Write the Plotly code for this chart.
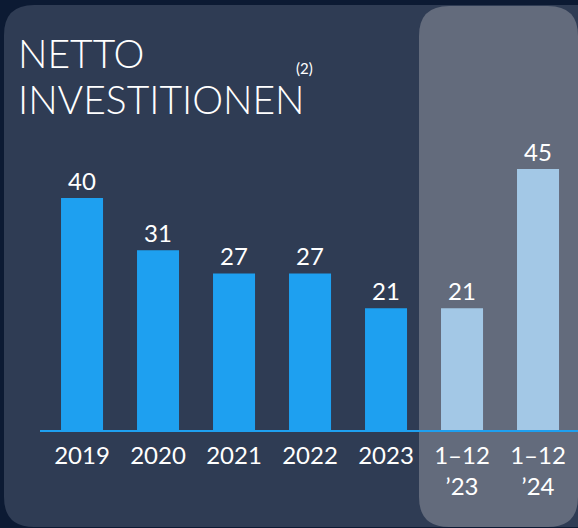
import plotly.graph_objects as go

categories = ["2019", "2020", "2021", "2022", "2023", "1–12<br>’23", "1–12<br>’24"]
values = [40, 31, 27, 27, 21, 21, 45]
bar_colors = ["#1ea0f0"] * 5 + ["#a3c8e6"] * 2
title_lines = ["NETTO", "INVESTITIONEN"]
footnote = "(2)"

W, H = 578, 528
L, R, T, B = 40, 0, 140, 98
pw, ph = W - L - R, H - T - B

def px(x):
    return (x - L) / pw

def py(y):
    return (H - B - y) / ph

def rounded_rect(x0, y0, x1, y1, r):
    rx, ry = r / pw, r / ph
    X0, X1 = px(x0), px(x1)
    Y0, Y1 = py(y0), py(y1)
    return (f"M {X0+rx},{Y0} L {X1-rx},{Y0} Q {X1},{Y0} {X1},{Y0-ry} "
            f"L {X1},{Y1+ry} Q {X1},{Y1} {X1-rx},{Y1} "
            f"L {X0+rx},{Y1} Q {X0},{Y1} {X0},{Y1+ry} "
            f"L {X0},{Y0-ry} Q {X0},{Y0} {X0+rx},{Y0} Z")

FONT = "Lato"

fig = go.Figure()
fig.add_trace(go.Bar(
    x=list(range(len(categories))),
    y=values,
    marker=dict(color=bar_colors, line=dict(width=0)),
    text=[str(v) for v in values],
    textposition="outside",
    textfont=dict(family=FONT, size=24, color="#ffffff", weight=400),
    cliponaxis=False,
    width=0.553,
    hoverinfo="skip",
))

shapes = [
    dict(type="path", xref="paper", yref="paper", layer="below",
         path=rounded_rect(4, 5, 620, 527, 30),
         fillcolor="#2f3c54", line=dict(width=0)),
    dict(type="path", xref="paper", yref="paper", layer="below",
         path=rounded_rect(419, 6, 578, 527, 30),
         fillcolor="#636b7c", line=dict(width=0)),
]

annotations = [
    dict(text=title_lines[0], xref="paper", yref="paper", x=px(16), y=py(53),
         xanchor="left", yanchor="middle", showarrow=False,
         font=dict(family=FONT, size=39, color="#ffffff", weight=300)),
    dict(text=title_lines[1], xref="paper", yref="paper", x=px(16), y=py(99),
         xanchor="left", yanchor="middle", showarrow=False,
         font=dict(family=FONT, size=39, color="#ffffff", weight=300)),
    dict(text=footnote, xref="paper", yref="paper", x=px(304), y=py(68),
         xanchor="center", yanchor="middle", showarrow=False,
         font=dict(family=FONT, size=15, color="#ffffff")),
]

fig.update_layout(
    width=W, height=H,
    margin=dict(l=L, r=R, t=T, b=B, pad=0),
    paper_bgcolor="#0c1a33",
    plot_bgcolor="rgba(0,0,0,0)",
    showlegend=False,
    shapes=shapes,
    annotations=annotations,
    xaxis=dict(
        range=[-0.553, 6.526],
        tickvals=list(range(len(categories))),
        ticktext=categories,
        tickfont=dict(family=FONT, size=24, color="#ffffff", weight=400),
        showline=True, linecolor="#1ea0f0", linewidth=2,
        showgrid=False, zeroline=False, ticks="",
        ticklabelstandoff=3,
        fixedrange=True,
    ),
    yaxis=dict(range=[0, 50], visible=False, fixedrange=True),
)

fig.write_html(
    "out.html",
    config={"displayModeBar": False},
    post_script="document.body.style.margin='0';document.body.style.overflow='hidden';",
)
